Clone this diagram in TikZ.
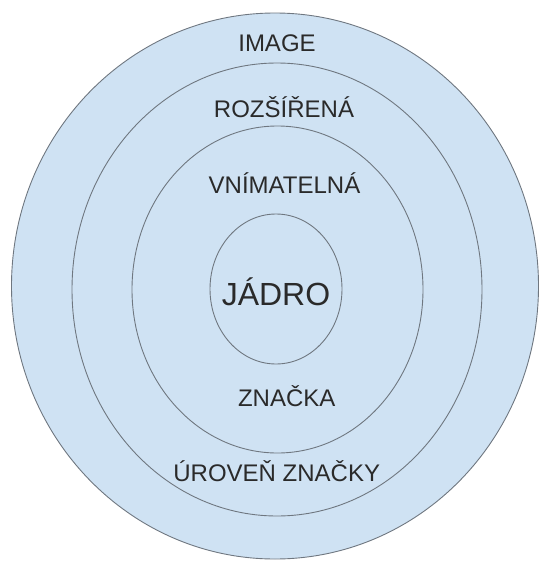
\documentclass[tikz,border=0pt]{standalone}
\usepackage{fontspec}
\setmainfont{Liberation Sans}
\usetikzlibrary{shapes.geometric}
\definecolor{ringfill}{HTML}{CFE2F3}
\definecolor{ringline}{HTML}{6F7780}
\definecolor{labeltext}{HTML}{2A2A2A}
\tikzset{
  ring/.style={ellipse, draw=ringline, fill=ringfill, line width=0.9pt, inner sep=0pt},
  lbl/.style={anchor=base, inner sep=0pt, text=labeltext, font=\fontsize{24}{28}\selectfont},
  corelbl/.style={lbl, font=\fontsize{32}{36}\selectfont}
}
\begin{document}
\begin{tikzpicture}[x=1pt, y=-1pt]
  \useasboundingbox (0,0) rectangle (540,562);
  % nested brand levels
  \node[ring, minimum width=527pt, minimum height=546pt] (image) at (275,286) {};
  \node[ring, minimum width=410pt, minimum height=453pt] (rozsirena) at (277,289.5) {};
  \node[ring, minimum width=291pt, minimum height=327pt] (vnimatelna) at (277.5,289.5) {};
  \node[ring, minimum width=132pt, minimum height=150pt] (jadro) at (276,289) {};
  % level labels
  \node[lbl] (timage) at (277,51.7) {IMAGE};
  \node[lbl] (trozsirena) at (284,117) {ROZŠÍŘENÁ};
  \node[lbl] (tvnimatelna) at (284.5,193) {VNÍMATELNÁ};
  \node[corelbl] (tjadro) at (276,305) {JÁDRO};
  \node[lbl] (tznacka) at (286.7,406) {ZNAČKA};
  \node[lbl] (turoven) at (276.7,481.7) {ÚROVEŇ ZNAČKY};
\end{tikzpicture}
\end{document}
